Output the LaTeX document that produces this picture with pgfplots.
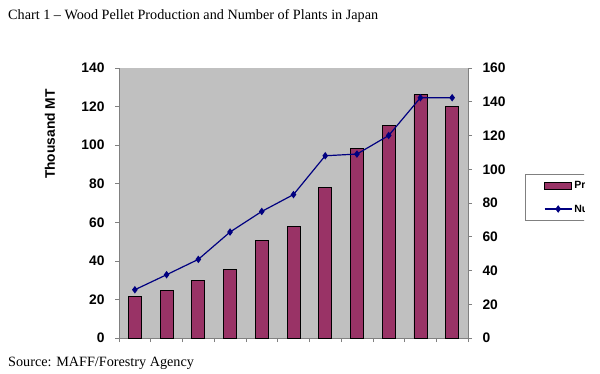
\documentclass[border=0pt]{standalone}
\usepackage{pgfplots}
\usepackage{pgfplotstable}
\pgfplotsset{compat=1.18}
\usepackage{fontspec}
\setmainfont{Liberation Serif}
\newfontfamily\arialfont{Liberation Sans}
\definecolor{barcol}{RGB}{153,51,102}
\definecolor{linecol}{RGB}{0,0,128}
\definecolor{plotbg}{RGB}{192,192,192}
\definecolor{axgray}{RGB}{128,128,128}

\pgfplotsset{
  barlegend/.style={legend image code/.code={\draw[fill=barcol,draw=black,line width=0.8pt] (0pt,-3.5pt) rectangle (27pt,3.5pt);}},
  linelegend/.style={legend image code/.code={\draw[mark repeat=2,mark phase=2,##1] plot coordinates {(0pt,0pt) (13.5pt,0pt) (27pt,0pt)};}},
}

\pgfplotstableread{
x prod
0 21.5
1 24.7
2 29.7
3 35.6
4 50.7
5 57.7
6 78.0
7 98.3
8 110.3
9 126.2
10 120.0
}\prodtable
\pgfplotstableread{
x plants
0 28.6
1 37.5
2 46.6
3 62.8
4 75.0
5 85.0
6 108.0
7 109.0
8 120.0
9 142.4
10 142.4
}\planttable

\begin{document}
\begin{tikzpicture}[x=1pt,y=1pt]
\useasboundingbox (0,0) rectangle (600,373);
\clip (0,0) rectangle (584,373);
\node[anchor=base west, inner sep=0, font=\fontsize{14.2}{16}\selectfont] at (8,353) {Chart 1 – Wood Pellet Production and Number of Plants in Japan};
\node[anchor=base west, inner sep=0, font=\fontsize{14.2}{16}\selectfont] at (8,6.5) {Source: MAFF/Forestry Agency};

\begin{axis}[
  at={(119pt,35pt)}, anchor=south west,
  scale only axis, width=349pt, height=270pt,
  xmin=-0.5, xmax=10.5, ymin=0, ymax=140,
  axis y line*=left, axis x line*=bottom,
  axis line style={-, axgray, line width=0.8pt},
  axis background/.style={fill=plotbg},
  xtick={-0.5,0.5,...,10.5}, xticklabels={},
  ytick={0,20,...,140},
  tick style={axgray, line width=0.6pt},
  tick align=outside, major tick length=4pt,
  /pgf/number format/assume math mode=true,
  yticklabel style={font=\arialfont\bfseries\fontsize{13.8}{15}\selectfont, xshift=-7pt},
  ylabel={Thousand MT},
  ylabel style={font=\arialfont\bfseries\fontsize{13.8}{15}\selectfont, at={(axis description cs:-0.198,0.755)}, anchor=center, rotate=0},
  clip=false,
]
\addplot[ybar, bar width=13pt, bar shift=0pt, fill=barcol, draw=black, line width=0.8pt] table[x=x,y=prod]{\prodtable};
\end{axis}

\begin{axis}[
  at={(119pt,35pt)}, anchor=south west,
  scale only axis, width=349pt, height=270pt,
  xmin=-0.5, xmax=10.5, ymin=0, ymax=160,
  axis y line*=right, axis x line=none,
  axis line style={-, axgray, line width=0.8pt},
  ytick={0,20,...,160},
  tick style={axgray, line width=0.6pt},
  tick align=outside, major tick length=4pt,
  /pgf/number format/assume math mode=true,
  yticklabel style={font=\arialfont\bfseries\fontsize{13.8}{15}\selectfont, xshift=7pt},
  clip=false,
  legend style={at={(axis description cs:1.163,0.607)}, anchor=north west,
    draw=axgray, fill=white, inner xsep=19pt, inner ysep=5pt, row sep=10pt,
    font=\arialfont\bfseries\fontsize{10.5}{12}\selectfont},
  legend cell align=left,
]
\addlegendimage{barlegend}
\addlegendentry{Production}
\addplot[linecol, line width=1.2pt, mark=diamond*, mark size=2.8pt, linelegend]
  table[x=x,y=plants]{\planttable};
\addlegendentry{Number of Plants}
\end{axis}
\end{tikzpicture}
\end{document}
